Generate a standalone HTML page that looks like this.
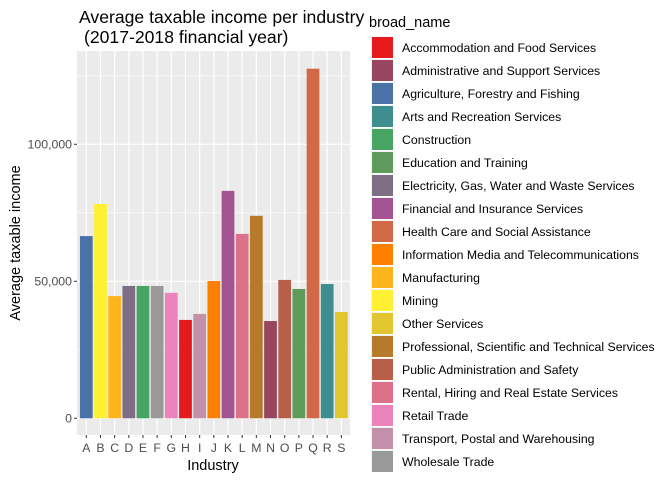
<!DOCTYPE html>
<html><head><meta charset="utf-8"><style>
body{margin:0;background:#fff;font-family:"Liberation Sans",sans-serif}
</style></head><body>
<svg id="chart" width="672" height="480" xmlns="http://www.w3.org/2000/svg" font-family="Liberation Sans, sans-serif"></svg>
<script>
const categories=["A","B","C","D","E","F","G","H","I","J","K","L","M","N","O","P","Q","R","S"];
const values=[66500,78200,44600,48300,48300,48300,45800,35900,38100,50100,83000,67300,73900,35500,50500,47200,127600,49000,38800];
const barIndustry=["Agriculture, Forestry and Fishing","Mining","Manufacturing","Electricity, Gas, Water and Waste Services","Construction","Wholesale Trade","Retail Trade","Accommodation and Food Services","Transport, Postal and Warehousing","Information Media and Telecommunications","Financial and Insurance Services","Rental, Hiring and Real Estate Services","Professional, Scientific and Technical Services","Administrative and Support Services","Public Administration and Safety","Education and Training","Health Care and Social Assistance","Arts and Recreation Services","Other Services"];
const legendNames=["Accommodation and Food Services","Administrative and Support Services","Agriculture, Forestry and Fishing","Arts and Recreation Services","Construction","Education and Training","Electricity, Gas, Water and Waste Services","Financial and Insurance Services","Health Care and Social Assistance","Information Media and Telecommunications","Manufacturing","Mining","Other Services","Professional, Scientific and Technical Services","Public Administration and Safety","Rental, Hiring and Real Estate Services","Retail Trade","Transport, Postal and Warehousing","Wholesale Trade"];
const legendColors=["#e41a1c","#984560","#4a72a6","#3f8e8f","#48a462","#5e9a5c","#7e6e85","#a35391","#d16948","#ff7f00","#feb41c","#fff033","#e1c62f","#b67a2a","#b75f49","#dc7189","#ec83ba","#c48fa9","#999999"];
const yTicks=[0,50000,100000];
const yTickLabels=["0","50,000","100,000"];
const yMinor=[25000,75000,125000];
const NS="http://www.w3.org/2000/svg";
const svg=document.getElementById('chart');
function mk(t,a,p){const e=document.createElementNS(NS,t);for(const k in a)e.setAttribute(k,a[k]);(p||svg).appendChild(e);return e;}
const px0=77,px1=350,py0=51,py1=435;
const y=v=>418.3-v/50000*137;
const x=i=>86.3+i*14.17;
const bw=12.75;
const panel=mk('rect',{x:px0,y:py0,width:px1-px0,height:py1-py0,fill:'#ebebeb'});

yMinor.forEach(v=>{mk('line',{x1:px0,x2:px1,y1:y(v),y2:y(v),stroke:'#fff','stroke-width':0.6});});
yTicks.forEach(v=>{mk('line',{x1:px0,x2:px1,y1:y(v),y2:y(v),stroke:'#fff','stroke-width':1.2});});
categories.forEach((c,i)=>{mk('line',{x1:x(i),x2:x(i),y1:py0,y2:py1,stroke:'#fff','stroke-width':1.2});});
categories.forEach((c,i)=>{
 const col=legendColors[legendNames.indexOf(barIndustry[i])];
 const r=mk('rect',{x:x(i)-bw/2,y:y(values[i]),width:bw,height:y(0)-y(values[i]),fill:col});
 
 
 mk('line',{x1:x(i),x2:x(i),y1:py1,y2:py1+3,stroke:'#333'});
 const t=mk('text',{x:x(i),y:452,'font-size':12.3,fill:'#4d4d4d','text-anchor':'middle'});t.textContent=c;
 
});
yTicks.forEach((v,i)=>{
 mk('line',{x1:px0-3,x2:px0,y1:y(v),y2:y(v),stroke:'#333'});
 const t=mk('text',{x:px0-5,y:y(v)+4,'font-size':12.3,fill:'#4d4d4d','text-anchor':'end'});t.textContent=yTickLabels[i];
 
});
let t=mk('text',{x:213,y:470,'font-size':14.5,fill:'#000','text-anchor':'middle'});t.textContent='Industry';

t=mk('text',{x:0,y:0,'font-size':14.5,fill:'#000','text-anchor':'middle',transform:'translate(20,243) rotate(-90)'});t.textContent='Average taxable income';

t=mk('text',{x:79,y:23,'font-size':17.6,fill:'#000'});t.textContent='Average taxable income per industry';

t=mk('text',{x:84,y:43,'font-size':17.6,fill:'#000'});t.textContent='(2017-2018 financial year)';

t=mk('text',{x:369,y:27,'font-size':14.5,fill:'#000'});t.textContent='broad_name';

legendNames.forEach((n,i)=>{
 const g=mk('g',{});
 
 const yy=36+i*23;
 mk('rect',{x:371,y:yy,width:22,height:22,fill:'#f2f2f2'},g);
 mk('rect',{x:372,y:yy+1,width:21,height:21,fill:legendColors[i]},g);
 const tt=mk('text',{x:402,y:yy+16,'font-size':12.3,fill:'#000'},g);tt.textContent=n;
});
</script>
</body></html>
